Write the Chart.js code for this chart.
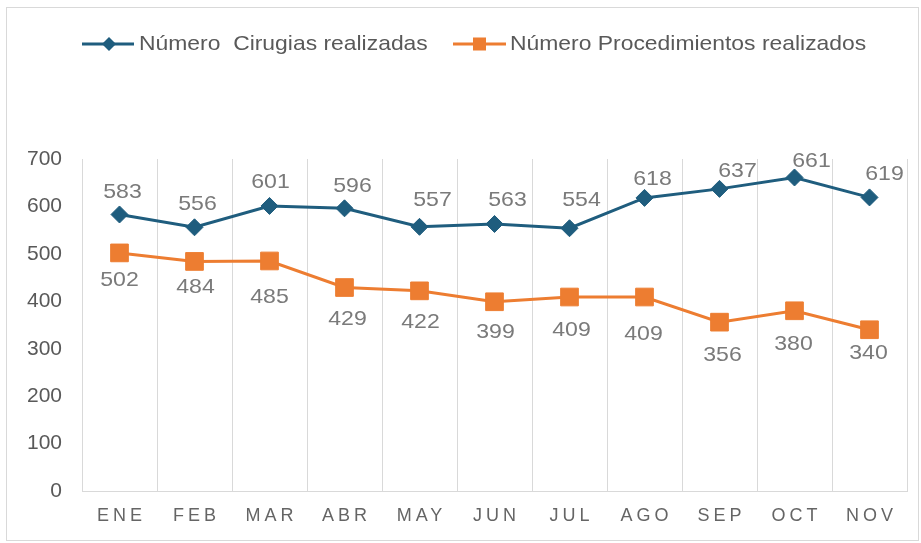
<!DOCTYPE html>
<html>
<head>
<meta charset="utf-8">
<script src="https://cdn.jsdelivr.net/npm/chart.js"></script>
<style>
html, body { margin: 0; padding: 0; background: #fff; }
</style>
</head>
<body>
<canvas id="myChart" width="921" height="543"></canvas>
<script>
var meses = ["ENE", "FEB", "MAR", "ABR", "MAY", "JUN", "JUL", "AGO", "SEP", "OCT", "NOV"];
var cirugias = [583, 556, 601, 596, 557, 563, 554, 618, 637, 661, 619];
var procedimientos = [502, 484, 485, 429, 422, 399, 409, 409, 356, 380, 340];
var nombreCirugias = "Número  Cirugias realizadas";
var nombreProc = "Número Procedimientos realizados";

// where excel left each value label, relative to its point
var offCirugias = [[3,-22],[3,-23],[1,-24],[8,-22],[13,-27],[13,-24],[12,-28],[8,-19],[18,-18],[17,-16],[15,-23]];
var offProc = [[0,27],[1,26],[0,36],[3,32],[1,31],[1,30],[2,33],[-1,37],[3,33],[-1,33],[-1,23]];

var azul = '#1F5D7E';
var naranja = '#ED7D31';
var fuente = "'Liberation Sans', Arial, sans-serif";

Chart.defaults.font.family = fuente;

function textoAncho(ctx, txt, x, y, sx) {
    ctx.save();
    ctx.translate(x, y);
    ctx.scale(sx, 1);
    ctx.fillText(txt, 0, 0);
    ctx.restore();
}

var marco = {
    id: 'marco',
    beforeDraw: function (chart) {
        var ctx = chart.ctx;
        ctx.save();
        ctx.fillStyle = '#fff';
        ctx.fillRect(0, 0, chart.width, chart.height);
        ctx.strokeStyle = '#d9d9d9';
        ctx.lineWidth = 1;
        ctx.strokeRect(6.5, 7.5, 912, 533);
        ctx.restore();
    }
};

var etiquetas = {
    id: 'etiquetas',
    afterDatasetsDraw: function (chart) {
        var ctx = chart.ctx;
        var offs = [offCirugias, offProc];
        ctx.save();
        ctx.font = '21px ' + fuente;
        ctx.fillStyle = '#7a7a7a';
        ctx.textAlign = 'center';
        ctx.textBaseline = 'middle';
        chart.data.datasets.forEach(function (ds, d) {
            chart.getDatasetMeta(d).data.forEach(function (pt, i) {
                textoAncho(ctx, String(ds.data[i]), pt.x + offs[d][i][0], pt.y + offs[d][i][1], 1.1);
            });
        });
        ctx.restore();
    },
    afterDraw: function (chart) {
        var ctx = chart.ctx;
        var xs = chart.scales.x;
        ctx.save();
        // x labels, spaced out like the original
        ctx.font = '18px ' + fuente;
        ctx.fillStyle = '#656565';
        ctx.textAlign = 'center';
        ctx.textBaseline = 'middle';
        ctx.letterSpacing = '4px';
        meses.forEach(function (m, i) {
            ctx.fillText(m, xs.getPixelForValue(i) + 2, 516);
        });
        ctx.letterSpacing = '0px';

        // legend
        var y = 44;
        ctx.lineWidth = 3;
        ctx.strokeStyle = azul;
        ctx.beginPath(); ctx.moveTo(82, y); ctx.lineTo(134, y); ctx.stroke();
        ctx.fillStyle = azul;
        ctx.beginPath();
        ctx.moveTo(109 - 7, y); ctx.lineTo(109, y - 7); ctx.lineTo(109 + 7, y); ctx.lineTo(109, y + 7);
        ctx.closePath(); ctx.fill();

        ctx.strokeStyle = naranja;
        ctx.beginPath(); ctx.moveTo(453, y); ctx.lineTo(506, y); ctx.stroke();
        ctx.fillStyle = naranja;
        ctx.fillRect(473, y - 6.5, 13, 13);

        ctx.font = '21px ' + fuente;
        ctx.fillStyle = '#595959';
        ctx.textAlign = 'left';
        textoAncho(ctx, nombreCirugias, 139, y, 1.09);
        textoAncho(ctx, nombreProc, 510, y, 1.09);
        ctx.restore();
    }
};

var ctx = document.getElementById('myChart');

var myLineChart = new Chart(ctx, {
    type: 'line',
    data: {
        labels: meses,
        datasets: [{
            label: nombreCirugias,
            data: cirugias,
            borderColor: azul,
            backgroundColor: azul,
            borderWidth: 3,
            pointStyle: 'rectRot',
            pointRadius: 8.5,
            pointHoverRadius: 8.5,
            pointBorderWidth: 1,
            tension: 0
        }, {
            label: nombreProc,
            data: procedimientos,
            borderColor: naranja,
            backgroundColor: naranja,
            borderWidth: 3,
            pointStyle: 'rect',
            pointRadius: 12.5,
            pointHoverRadius: 12.5,
            pointBorderWidth: 1,
            tension: 0
        }]
    },
    options: {
        responsive: false,
        animation: false,
        layout: { padding: { left: 0, right: 14, top: 159, bottom: 0 } },
        plugins: {
            legend: { display: false },
            tooltip: { enabled: false }
        },
        scales: {
            x: {
                offset: true,
                grid: { display: true, offset: true, color: '#d9d9d9', lineWidth: 1, drawTicks: false },
                border: { display: true, color: '#d9d9d9' },
                ticks: { display: false },
                afterFit: function (axis) { axis.height = 52; }
            },
            y: {
                min: 0,
                max: 700,
                grid: { display: false, drawTicks: false },
                border: { display: false },
                ticks: {
                    stepSize: 100,
                    padding: 20,
                    color: '#595959',
                    font: { size: 21 }
                },
                afterFit: function (axis) { axis.width = 82; }
            }
        }
    },
    plugins: [marco, etiquetas]
});
</script>
</body>
</html>
